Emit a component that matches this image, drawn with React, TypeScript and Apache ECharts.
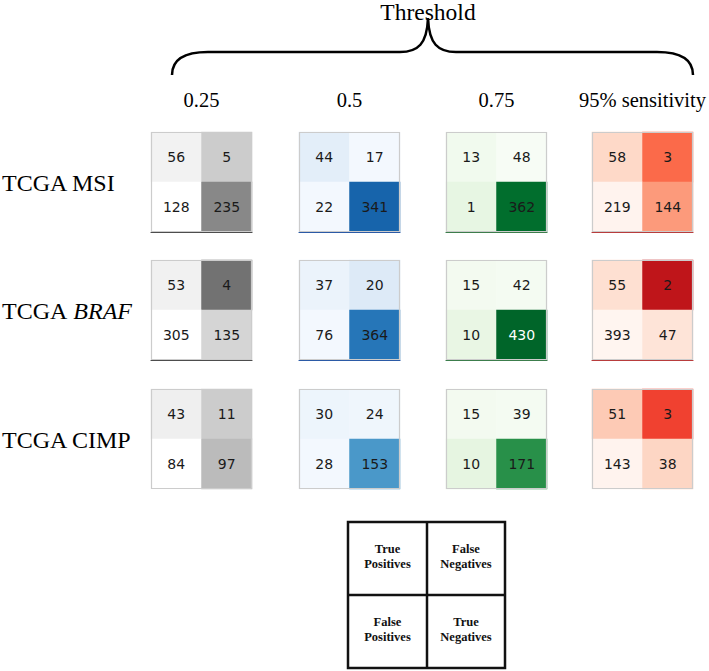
import React, { useEffect, useRef } from "react";
import * as echarts from "echarts";

// ---- data ----
const thresholds = ["0.25", "0.5", "0.75", "95% sensitivity"];
const cohorts = ["TCGA MSI", "TCGA BRAF", "TCGA CIMP"];
const legendCells = ["True\nPositives", "False\nNegatives", "False\nPositives", "True\nNegatives"];
// counts per cohort, per threshold: [TP, FN, FP, TN]
const msiCounts = [[56, 5, 128, 235], [44, 17, 22, 341], [13, 48, 1, 362], [58, 3, 219, 144]];
const brafCounts = [[53, 4, 305, 135], [37, 20, 76, 364], [15, 42, 10, 430], [55, 2, 393, 47]];
const cimpCounts = [[43, 11, 84, 97], [30, 24, 28, 153], [15, 39, 10, 171], [51, 3, 143, 38]];
// colour intensity (0-1) read from the cells, same layout
const msiShade = [[0.11, 0.31, 0, 0.55], [0.1, 0.02, 0.02, 0.8], [0.04, 0, 0.11, 0.87], [0.15, 0.5, 0.01, 0.35]];
const brafShade = [[0.12, 0.63, 0, 0.27], [0.06, 0.13, 0.02, 0.73], [0.03, 0.02, 0.1, 0.9], [0.125, 0.79, 0, 0.1]];
const cimpShade = [[0.13, 0.31, 0, 0.38], [0.05, 0.04, 0.02, 0.6], [0.03, 0.02, 0.12, 0.73], [0.2, 0.61, 0.01, 0.16]];

const allCounts = [msiCounts, brafCounts, cimpCounts];
const allShades = [msiShade, brafShade, cimpShade];

const PALETTES = [
  ["#ffffff", "#f0f0f0", "#d9d9d9", "#bdbdbd", "#969696", "#737373", "#525252", "#252525", "#000000"],
  ["#f7fbff", "#deebf7", "#c6dbef", "#9ecae1", "#6baed6", "#4292c6", "#2171b5", "#08519c", "#08306b"],
  ["#f7fcf5", "#e5f5e0", "#c7e9c0", "#a1d99b", "#74c476", "#41ab5d", "#238b45", "#006d2c", "#00441b"],
  ["#fff5f0", "#fee0d2", "#fcbba1", "#fc9272", "#fb6a4a", "#ef3b2c", "#cb181d", "#a50f15", "#67000d"],
];
const SPINE = ["#4d4d4d", "#2b5aa6", "#3c7d4c", "#b83c3c"];

const COL_LEFT = [151, 299, 446, 592];
const ROW_TOP = [132, 260, 389];
const SIZE = 101;

const BRACE =
  "M172,75 C172,60 184,52 208,52 L400,52 C418,52 427,44 428,18 C429,44 438,52 456,52 L657,52 C681,52 693,60 693,75";
echarts.graphic.registerShape("brace", echarts.graphic.extendPath(BRACE, {}) as any);

export default function App() {
  const ref = useRef<HTMLDivElement>(null);
  useEffect(() => {
    if (!ref.current) return;
    const chart = echarts.init(ref.current, null, { renderer: "svg" });
    const grid: any[] = [];
    const xAxis: any[] = [];
    const yAxis: any[] = [];
    const series: any[] = [];
    const visualMap: any[] = [];
    const graphic: any[] = [];
    const serif = "'Liberation Serif', 'Times New Roman', serif";

    for (let r = 0; r < cohorts.length; r++) {
      for (let c = 0; c < thresholds.length; c++) {
        const idx = r * thresholds.length + c;
        grid.push({
          left: COL_LEFT[c],
          top: ROW_TOP[r],
          width: SIZE,
          height: SIZE - 1,
          show: false,
        });
        graphic.push({
          type: "rect",
          z: 5,
          silent: true,
          shape: { x: COL_LEFT[c] + 0.5, y: ROW_TOP[r] + 0.5, width: SIZE - 1, height: SIZE - 2 },
          style: { fill: "none", stroke: "#cccccc", lineWidth: 1.2 },
        });
        xAxis.push({
          type: "category",
          gridIndex: idx,
          z: 10,
          data: ["0", "1"],
          axisLine: { show: r < 2, lineStyle: { color: SPINE[c], width: 1.2 } },
          axisTick: { show: false },
          axisLabel: { show: false },
          splitLine: { show: false },
        });
        yAxis.push({
          type: "category",
          gridIndex: idx,
          data: ["0", "1"],
          inverse: true,
          axisLine: { show: false },
          axisTick: { show: false },
          axisLabel: { show: false },
          splitLine: { show: false },
        });
        const counts = allCounts[r][c];
        const shades = allShades[r][c];
        series.push({
          type: "heatmap",
          xAxisIndex: idx,
          yAxisIndex: idx,
          itemStyle: { borderWidth: 0 },
          emphasis: { disabled: true },
          label: {
            show: true,
            fontFamily: "'DejaVu Sans', sans-serif",
            fontSize: 14,
            formatter: (p: any) => String(p.value[3]),
          },
          data: counts.map((v, k) => ({
            value: [k % 2, Math.floor(k / 2), shades[k], v],
            label: { color: shades[k] > 0.885 ? "#ffffff" : "#1a1a1a" },
          })),
        });
      }
    }
    for (let c = 0; c < thresholds.length; c++) {
      visualMap.push({
        type: "continuous",
        show: false,
        min: 0,
        max: 1,
        dimension: 2,
        seriesIndex: cohorts.map((_, r) => r * thresholds.length + c),
        inRange: { color: PALETTES[c] },
      });
    }

    graphic.push({
      type: "text",
      x: 428,
      y: 12,
      style: { text: "Threshold", font: `23.5px ${serif}`, fill: "#000", align: "center", verticalAlign: "middle" },
    });
    graphic.push({
      type: "brace",
      x: 0,
      y: 0,
      style: { fill: "none", stroke: "#000", lineWidth: 2.5 },
    });
    thresholds.forEach((t, c) => {
      graphic.push({
        type: "text",
        x: COL_LEFT[c] + SIZE / 2,
        y: 100,
        style: { text: t, font: `20.5px ${serif}`, fill: "#000", align: "center", verticalAlign: "middle" },
      });
    });
    cohorts.forEach((name, r) => {
      const parts = name.split(" ");
      const italic = parts[1] === "BRAF";
      graphic.push({
        type: "text",
        x: 2,
        y: ROW_TOP[r] + SIZE / 2,
        style: {
          text: italic ? `{n|${parts[0]} }{i|${parts[1]}}` : `{n|${name}}`,
          rich: {
            n: { fontFamily: serif, fontSize: 24, fill: "#000", color: "#000" },
            i: { fontFamily: serif, fontSize: 24, fontStyle: "italic", fill: "#000", color: "#000" },
          },
          align: "left",
          verticalAlign: "middle",
        },
      });
    });
    // explanatory key
    const L = 348, T = 522, R = 505, B = 668, MX = 427, MY = 595;
    graphic.push({
      type: "rect",
      shape: { x: L, y: T, width: R - L, height: B - T },
      style: { fill: "#fff", stroke: "#111", lineWidth: 2.5 },
    });
    graphic.push({ type: "line", shape: { x1: MX, y1: T, x2: MX, y2: B }, style: { stroke: "#111", lineWidth: 2.5 } });
    graphic.push({ type: "line", shape: { x1: L, y1: MY, x2: R, y2: MY }, style: { stroke: "#111", lineWidth: 2.5 } });
    legendCells.forEach((txt, k) => {
      const cx = k % 2 === 0 ? (L + MX) / 2 : (MX + R) / 2;
      const cy = k < 2 ? (T + MY) / 2 : (MY + B) / 2;
      graphic.push({
        type: "text",
        x: cx,
        y: cy - 2,
        style: {
          text: txt,
          font: `bold 12.5px ${serif}`,
          lineHeight: 15,
          fill: "#111",
          align: "center",
          verticalAlign: "middle",
        },
      });
    });

    chart.setOption({
      animation: false,
      backgroundColor: "#ffffff",
      grid,
      xAxis,
      yAxis,
      visualMap,
      series,
      graphic,
    });
    return () => chart.dispose();
  }, []);
  return (
    <div
      ref={ref}
      style={{ position: "absolute", left: 0, top: 0, width: 709, height: 671 }}
    />
  );
}
